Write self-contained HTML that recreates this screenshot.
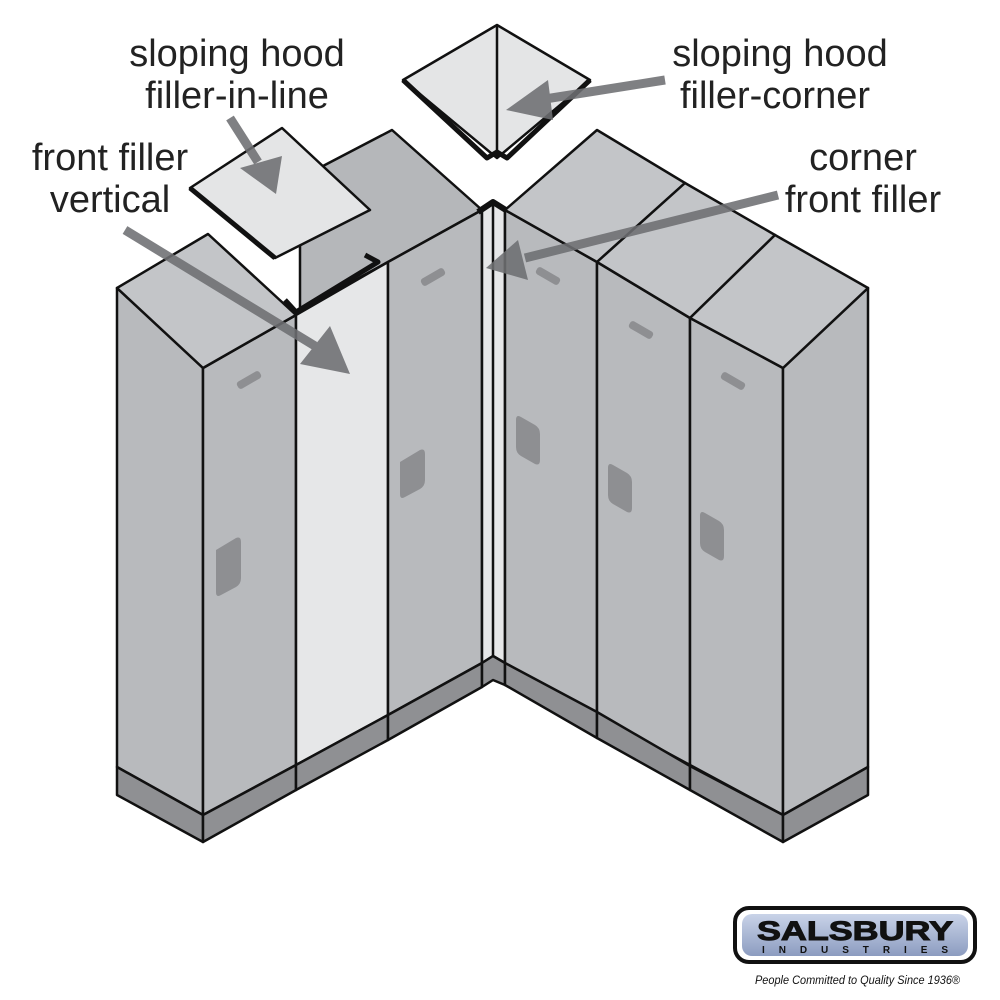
<!DOCTYPE html>
<html><head><meta charset="utf-8"><style>
body{margin:0;background:#fff;width:1000px;height:1000px;overflow:hidden}
svg{display:block}
text{font-family:"Liberation Sans",sans-serif;fill:#222}
</style></head><body>
<svg width="1000" height="1000" viewBox="0 0 1000 1000" xmlns="http://www.w3.org/2000/svg">
<g stroke="#111" stroke-width="2.5" stroke-linejoin="round">
<polygon points="300,178 392,130 482,210 388,262 300,310" fill="#b5b7ba"/>
<polygon points="117,288 203,368 203,815 117,767" fill="#b8babd"/>
<polygon points="203,368 296,315 296,765 203,815" fill="#b8babd"/>
<polygon points="296,315 388,262 388,715 296,765" fill="#e6e7e8"/>
<polygon points="388,262 482,210 482,663 388,715" fill="#b8babd"/>
<polygon points="117,288 208,234 296,315 203,368" fill="#c3c5c8"/>
<polygon points="482,210 493,203 505,210 505,663 493,656 482,663" fill="#e6e7e8"/>
<line x1="493" y1="203" x2="493" y2="656"/>
<polyline points="478,212 493,202 509,212" fill="none" stroke-width="6"/>
<polygon points="505,210 597,262 597,715 505,663" fill="#b8babd"/>
<polygon points="597,262 690,318 690,765 597,715" fill="#b8babd"/>
<polygon points="690,318 783,368 783,815 690,765" fill="#b8babd"/>
<polygon points="783,368 868,288 868,767 783,815" fill="#b8babd"/>
<polygon points="505,210 597,130 685,183 597,262" fill="#c3c5c8"/>
<polygon points="597,262 685,183 775,235 690,318" fill="#c3c5c8"/>
<polygon points="690,318 775,235 868,288 783,368" fill="#c3c5c8"/>
<polygon points="117,767 203,815 203,842 117,795" fill="#8f9093"/>
<polygon points="203,815 296,765 296,790 203,842" fill="#8f9093"/>
<polygon points="296,765 388,715 388,740 296,790" fill="#8f9093"/>
<polygon points="388,715 482,663 482,687 388,740" fill="#8f9093"/>
<polygon points="482,663 493,656 505,663 505,685 493,680 482,687" fill="#8f9093"/>
<polygon points="505,663 597,712 597,738 505,685" fill="#8f9093"/>
<polygon points="597,712 690,766 690,790 597,738" fill="#8f9093"/>
<polygon points="690,766 783,815 783,842 690,790" fill="#8f9093"/>
<polygon points="783,815 868,767 868,795 783,842" fill="#8f9093"/>
<polyline points="285,300 296,312 378,262 365,255" fill="none" stroke-width="5"/>
<polygon points="190,188 282,128 370,210 275,258" fill="#e4e5e6"/>
<line x1="190" y1="188" x2="275" y2="258" stroke-width="5"/>
<polygon points="403,80 497,25 590,80 497,158" fill="#e4e5e6"/>
<line x1="497" y1="25" x2="497" y2="158"/>
<polyline points="403,80 487,158 497,152 507,158 590,80" fill="none" stroke-width="5"/>
</g>
<g fill="#8e8f92">
<rect x="236" y="376" width="26" height="8" rx="3" transform="rotate(-30 249 380)"/>
<rect x="420" y="273" width="26" height="8" rx="3" transform="rotate(-30 433 277)"/>
<rect x="535" y="272" width="26" height="8" rx="3" transform="rotate(30 548 276)"/>
<rect x="628" y="326" width="26" height="8" rx="3" transform="rotate(30 641 330)"/>
<rect x="720" y="377" width="26" height="8" rx="3" transform="rotate(30 733 381)"/>
<path d="M216,550 L236,538 Q241,536 241,542 L241,578 Q241,584 236,587 L221,595 Q216,598 216,592 Z"/>
<path d="M400,462 L420,450 Q425,448 425,454 L425,480 Q425,486 420,489 L405,497 Q400,500 400,494 Z"/>
<path d="M516,420 Q516,414 521,417 L535,425 Q540,428 540,434 L540,460 Q540,466 535,464 L521,456 Q516,453 516,447 Z"/>
<path d="M608,468 Q608,462 613,465 L627,473 Q632,476 632,482 L632,508 Q632,514 627,512 L613,504 Q608,501 608,495 Z"/>
<path d="M700,516 Q700,510 705,513 L719,521 Q724,524 724,530 L724,556 Q724,562 719,560 L705,552 Q700,549 700,543 Z"/>
</g>
<g stroke="#6e6f72" stroke-width="9" fill="#6e6f72" opacity="0.88">
<line x1="230" y1="118" x2="258" y2="162"/>
<polygon points="240,168 282,156 276,194" stroke="none"/>
<line x1="125" y1="230" x2="315" y2="346"/>
<polygon points="300,364 330,326 350,374" stroke="none"/>
<line x1="665" y1="80" x2="545" y2="99"/>
<polygon points="548,80 553,120 506,110" stroke="none"/>
<line x1="778" y1="195" x2="525" y2="258"/>
<polygon points="518,240 528,280 486,268" stroke="none"/>
</g>
<g font-size="38">
<text x="237" y="66" text-anchor="middle">sloping hood</text>
<text x="237" y="108" text-anchor="middle">filler-in-line</text>
<text x="110" y="170" text-anchor="middle">front filler</text>
<text x="110" y="212" text-anchor="middle">vertical</text>
<text x="780" y="66" text-anchor="middle">sloping hood</text>
<text x="775" y="108" text-anchor="middle">filler-corner</text>
<text x="863" y="170" text-anchor="middle">corner</text>
<text x="863" y="212" text-anchor="middle">front filler</text>
</g>
<defs><linearGradient id="lg" x1="0" y1="0" x2="0" y2="1"><stop offset="0" stop-color="#c9d3e8"/><stop offset="1" stop-color="#8c9cc0"/></linearGradient></defs>
<rect x="735" y="908" width="240" height="54" rx="14" fill="#fff" stroke="#111" stroke-width="4"/>
<rect x="742" y="914" width="226" height="42" rx="10" fill="url(#lg)"/>
<text x="757" y="940" font-size="27" font-weight="bold" textLength="196" lengthAdjust="spacingAndGlyphs" style="fill:#111;stroke:#111;stroke-width:1">SALSBURY</text>
<text x="762" y="953" font-size="10" font-weight="bold" textLength="186" lengthAdjust="spacing" style="fill:#111">INDUSTRIES</text>
<text x="755" y="984" font-size="12" font-style="italic" textLength="205" lengthAdjust="spacingAndGlyphs" style="fill:#111">People Committed to Quality Since 1936®</text>
</svg>
</body></html>
